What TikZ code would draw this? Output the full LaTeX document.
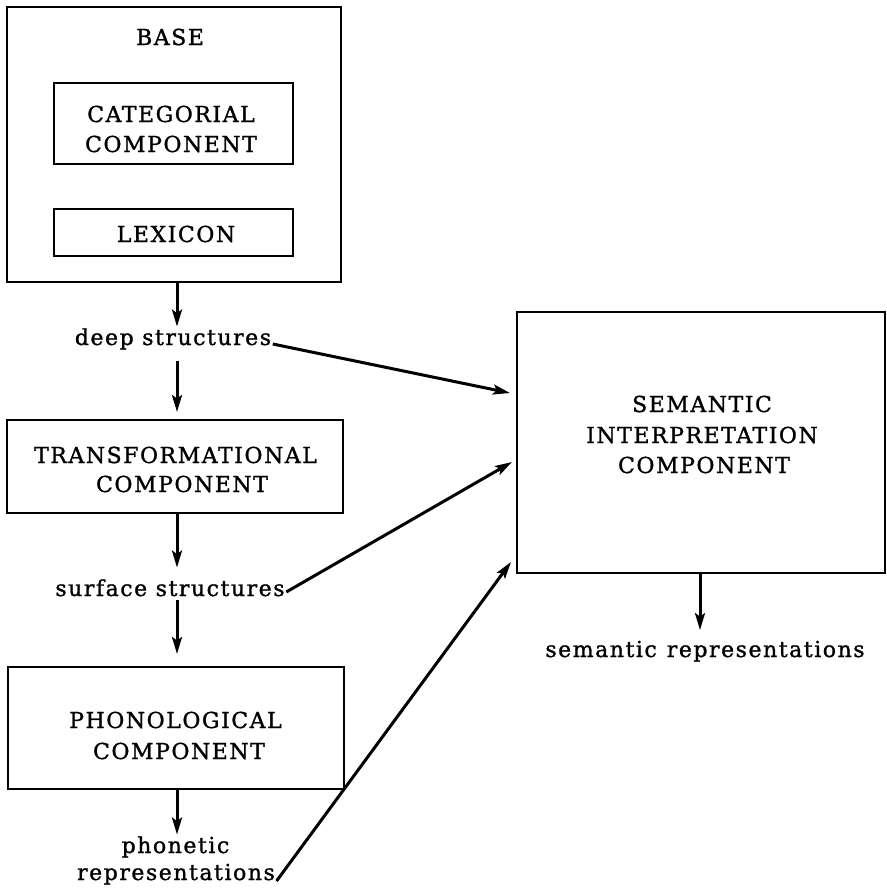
\documentclass[tikz,border=0pt]{standalone}
\usepackage{fontspec}
\setmainfont{DejaVu Serif}[LetterSpace=7,FakeBold=1.2]
\usetikzlibrary{arrows.meta}
\newcommand\fsz{\fontsize{22}{30}\selectfont}
\begin{document}
\begin{tikzpicture}[x=1pt,y=-1pt,
  box/.style={draw, line width=2pt, inner sep=0pt},
  txt/.style={inner sep=1.5pt, anchor=base, font=\fsz},
  arr/.style={line width=3pt, -{Stealth[length=17pt,width=10pt,inset=3.5pt]}},
]
\useasboundingbox (0,0) rectangle (886,894);
\coordinate (col) at (177,0);
\coordinate (semcol) at (700,0);
% base
\node[box, minimum width=334pt, minimum height=275pt] (base) at (174,144.5) {};
\node[txt] (basetxt) at (170,45) {BASE};
\node[box, minimum width=239pt, minimum height=81pt] (cat) at (173.5,123.5) {};
\node[txt] (cat1) at (171,122) {CATEGORIAL};
\node[txt] (cat2) at (171,152) {COMPONENT};
\node[box, minimum width=239pt, minimum height=47pt] (lex) at (173.5,232.5) {};
\node[txt] (lextxt) at (176,242) {LEXICON};
% labels and boxes of the left column
\node[txt] (deep) at (173,345) {deep structures};
\node[box, minimum width=336pt, minimum height=93pt] (trans) at (175,466.5) {};
\node[txt] (trans1) at (175.5,463) {TRANSFORMATIONAL};
\node[txt] (trans2) at (182,492) {COMPONENT};
\node[txt] (surf) at (170,596) {surface structures};
\node[box, minimum width=336pt, minimum height=122pt] (phon) at (176,728) {};
\node[txt] (phon1t) at (175.5,728) {PHONOLOGICAL};
\node[txt] (phon2t) at (179,759) {COMPONENT};
\node[txt] (phon1) at (175.5,853) {phonetic};
\node[txt] (phon2) at (176,880) {representations};
% semantic
\node[box, minimum width=368pt, minimum height=261pt] (sem) at (701,442.5) {};
\node[txt] (sem1) at (702,412) {SEMANTIC};
\node[txt] (sem2) at (702,443) {INTERPRETATION};
\node[txt] (sem3) at (704,473) {COMPONENT};
\node[txt] (semrep) at (705,657) {semantic\hspace{10pt}representations};
% vertical arrows
\draw[arr] (base.south -| col) -- (deep.north -| col);
\draw[arr, shorten <=10pt, shorten >=7pt] (deep.south -| col) -- (trans.north -| col);
\draw[arr, shorten >=10pt] (trans.south -| col) -- (surf.north -| col);
\draw[arr, shorten <=2pt, shorten >=12pt] (surf.south -| col) -- (phon.north -| col);
\draw[arr] (phon.south -| col) -- (phon1.north -| col);
\draw[arr, shorten >=9pt] (sem.south -| semcol) -- (semrep.north -| semcol);
% diagonal arrows
\draw[arr] ([yshift=1pt]deep.base east) -- ([xshift=-6pt,yshift=49.5pt]sem.west);
\draw[arr] ([yshift=4pt]surf.base east) -- ([xshift=-4pt,yshift=-19.5pt]sem.west);
\draw[arr] ([yshift=-1pt]phon2.base east) -- ([xshift=-5pt,yshift=-119.5pt]sem.west);
\end{tikzpicture}
\end{document}
